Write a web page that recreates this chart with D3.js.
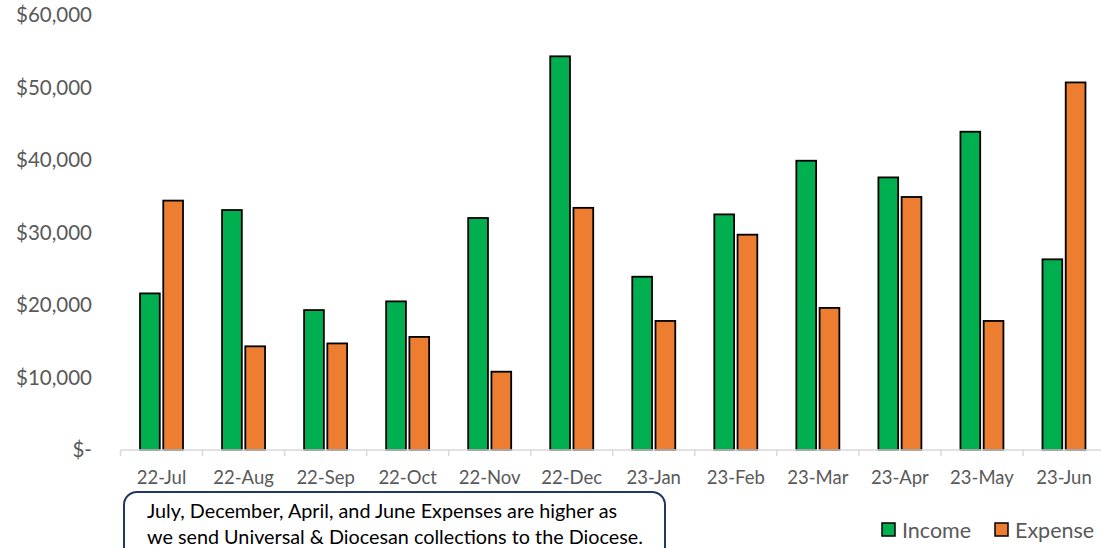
<!DOCTYPE html>
<html>
<head>
<meta charset="utf-8">
<script src="https://cdn.jsdelivr.net/npm/d3@7"></script>
<style>
  body { margin: 0; background: #fff; }
  svg { display: block; font-family: Lato, "Open Sans", sans-serif; }
</style>
</head>
<body>
<svg id="chart" width="1101" height="548"></svg>
<script>
var months = ["22-Jul", "22-Aug", "22-Sep", "22-Oct", "22-Nov", "22-Dec",
              "23-Jan", "23-Feb", "23-Mar", "23-Apr", "23-May", "23-Jun"];
var income  = [21600, 33100, 19300, 20500, 32000, 54300, 23900, 32500, 39900, 37600, 43900, 26300];
var expense = [34400, 14300, 14700, 15600, 10800, 33400, 17800, 29700, 19600, 34900, 17800, 50700];
var series = ["Income", "Expense"];
var colors = ["#00B050", "#ED7D31"];
var yTicks = [0, 10000, 20000, 30000, 40000, 50000, 60000];
var note = ["July, December, April, and June Expenses are higher as",
            "we send Universal & Diocesan collections to the Diocese."];

var svg = d3.select("#chart");
var plotL = 120.5, plotR = 1105, plotT = 15, plotB = 450;

var x0 = d3.scaleBand()
    .domain(months)
    .range([plotL, plotR])
    .paddingInner(0.476)
    .paddingOuter(0.238);
var x1 = d3.scaleBand()
    .domain(series)
    .range([0, x0.bandwidth()])
    .paddingInner(0.15);
var y = d3.scaleLinear()
    .domain([0, 60000])
    .range([plotB, plotT]);

var data = months.map(function (m, i) {
    return { month: m, values: [income[i], expense[i]] };
});

// bars
svg.append("g")
    .selectAll("g")
    .data(data)
    .enter()
    .append("g")
    .attr("transform", function (d) { return "translate(" + x0(d.month) + ",0)"; })
    .selectAll("rect")
    .data(function (d) { return d.values.map(function (v, j) { return { key: series[j], v: v, c: colors[j] }; }); })
    .enter()
    .append("rect")
    .attr("x", function (d) { return x1(d.key); })
    .attr("y", function (d) { return y(d.v); })
    .attr("width", x1.bandwidth())
    .attr("height", function (d) { return plotB - y(d.v); })
    .style("fill", function (d) { return d.c; })
    .attr("stroke", "#000")
    .attr("stroke-width", 1.8);

// x axis line + boundary ticks
var step = x0.step();
var xa = svg.append("g");
xa.append("line")
    .attr("x1", plotL).attr("x2", plotR)
    .attr("y1", plotB).attr("y2", plotB)
    .attr("stroke", "#d9d9d9").attr("stroke-width", 1.5);
xa.selectAll(".tk")
    .data(d3.range(months.length + 1))
    .enter()
    .append("line")
    .attr("x1", function (i) { return plotL + i * step; })
    .attr("x2", function (i) { return plotL + i * step; })
    .attr("y1", plotB).attr("y2", plotB + 6)
    .attr("stroke", "#d9d9d9").attr("stroke-width", 1.5);
xa.selectAll("text")
    .data(months)
    .enter()
    .append("text")
    .attr("x", function (d) { return x0(d) + x0.bandwidth() / 2; })
    .attr("y", 478)
    .attr("dy", "0.35em")
    .attr("text-anchor", "middle")
    .style("font-size", "18.5px")
    .style("fill", "#595959")
    .text(function (d) { return d; });

// y labels
svg.append("g")
    .selectAll("text")
    .data(yTicks)
    .enter()
    .append("text")
    .attr("x", 92)
    .attr("y", function (d) { return y(d); })
    .attr("dy", "0.35em")
    .attr("text-anchor", "end")
    .style("font-size", "20.5px")
    .style("fill", "#595959")
    .text(function (d) { return d === 0 ? "$-" : d3.format("$,")(d); });

// note box
var nb = svg.append("g");
nb.append("rect")
    .attr("x", 124).attr("y", 492)
    .attr("width", 541).attr("height", 80)
    .attr("rx", 13)
    .attr("fill", "#fff")
    .attr("stroke", "#1F3864")
    .attr("stroke-width", 2);
nb.selectAll("text")
    .data(note)
    .enter()
    .append("text")
    .attr("x", 147)
    .attr("y", function (d, i) { return 511 + i * 26; })
    .attr("dy", "0.35em")
    .style("font-size", "19.8px")
    .style("fill", "#000")
    .text(function (d) { return d; });

// legend
var lg = svg.append("g");
var lx = [882, 995];
series.forEach(function (s, i) {
    lg.append("rect")
        .attr("x", lx[i]).attr("y", 523)
        .attr("width", 13).attr("height", 13)
        .style("fill", colors[i])
        .attr("stroke", "#000").attr("stroke-width", 1.5);
    lg.append("text")
        .attr("x", lx[i] + 20).attr("y", 530)
        .attr("dy", "0.35em")
        .style("font-size", "21.5px")
        .style("fill", "#595959")
        .text(s);
});
</script>
</body>
</html>
